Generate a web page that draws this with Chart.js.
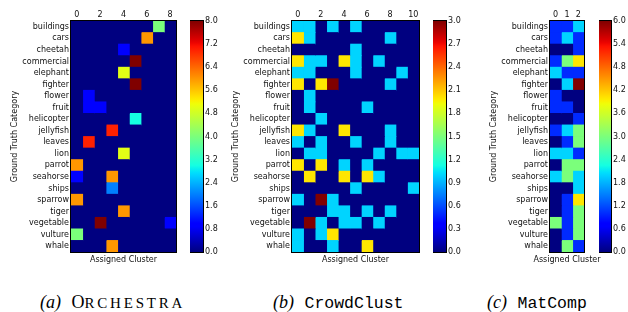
<!DOCTYPE html>
<html>
<head>
<meta charset="utf-8">
<script src="https://cdn.jsdelivr.net/npm/chart.js@4.4.1/dist/chart.umd.min.js"></script>
<style>
  body { margin: 0; background: #fff; }
  #wrap { position: relative; width: 628px; height: 312px; overflow: hidden; }
  canvas { position: absolute; top: 0; }
  .cap { position: absolute; top: 294px; font-size: 18px; line-height: 17px; white-space: nowrap; color: #000;
         font-family: "Liberation Serif", serif; word-spacing: 6px; }
  .cap i { font-style: italic; }
  .sc { font-size: 15px; letter-spacing: 2.8px; }
  .tt { font-family: "Liberation Mono", monospace; font-size: 16.5px; }
</style>
</head>
<body>
<div id="wrap">
  <canvas id="hmA" width="178" height="270" style="left:0px"></canvas>
  <canvas id="cbA" width="30" height="270" style="left:190px"></canvas>
  <canvas id="hmB" width="200" height="270" style="left:220px"></canvas>
  <canvas id="cbB" width="30" height="270" style="left:433px"></canvas>
  <canvas id="hmC" width="148" height="270" style="left:480px"></canvas>
  <canvas id="cbC" width="29" height="270" style="left:599px"></canvas>
  <div class="cap" style="left:40px"><i>(a)</i> O<span class="sc">RCHESTRA</span></div>
  <div class="cap" style="left:273px"><i>(b)</i> <span class="tt">CrowdClust</span></div>
  <div class="cap" style="left:487px"><i>(c)</i> <span class="tt">MatComp</span></div>
</div>
<script>
// ---- data ----
const categories = ['buildings', 'cars', 'cheetah', 'commercial', 'elephant', 'fighter', 'flower', 'fruit',
  'helicopter', 'jellyfish', 'leaves', 'lion', 'parrot', 'seahorse', 'ships', 'sparrow', 'tiger',
  'vegetable', 'vulture', 'whale'];

// rows = categories, columns = assigned cluster
const orchestra = [
  [0,0,0,0,0,0,0,4,0],
  [0,0,0,0,0,0,6,0,0],
  [0,0,0,0,1,0,0,0,0],
  [0,0,0,0,0,8,0,0,0],
  [0,0,0,0,5,0,0,0,0],
  [0,0,0,0,0,8,0,0,0],
  [0,1,0,0,0,0,0,0,0],
  [0,1,1,0,0,0,0,0,0],
  [0,0,0,0,0,3,0,0,0],
  [0,0,0,7,0,0,0,0,0],
  [0,7,0,0,0,0,0,0,0],
  [0,0,0,0,5,0,0,0,0],
  [6,0,0,0,0,0,0,0,0],
  [1,0,0,6,0,0,0,0,0],
  [0,0,0,2,0,0,0,0,0],
  [6,0,0,0,0,0,0,0,0],
  [0,0,0,0,6,0,0,0,0],
  [0,0,8,0,0,0,0,0,1],
  [4,0,0,0,0,0,0,0,0],
  [0,0,0,6,0,0,0,0,0]
];

const crowdClust = [
  [1,1,0,1,0,1,0,0,0,0,0],
  [2,1,0,0,0,0,0,0,1,0,0],
  [0,0,0,0,0,1,0,0,0,0,0],
  [2,1,1,0,2,1,0,1,0,0,0],
  [1,1,0,0,0,1,0,0,0,1,0],
  [2,0,2,3,0,0,0,0,1,0,0],
  [0,1,0,0,0,0,0,0,0,0,0],
  [0,1,0,0,0,0,1,0,0,0,0],
  [0,0,1,0,0,0,0,0,0,0,0],
  [2,1,0,0,2,0,0,0,1,0,0],
  [1,0,1,0,0,1,0,0,1,0,0],
  [0,1,1,0,0,0,0,1,0,1,1],
  [2,0,2,0,1,0,1,0,0,0,0],
  [0,2,0,0,2,0,2,1,0,0,0],
  [0,0,0,0,0,1,0,0,0,0,1],
  [1,0,3,1,0,0,0,0,0,0,0],
  [0,0,0,1,1,0,1,0,1,0,0],
  [0,3,1,0,1,1,0,1,0,0,0],
  [1,0,1,2,0,0,0,0,0,0,0],
  [1,0,0,1,0,0,2,0,0,0,0]
];

const matComp = [
  [1,1,2],
  [1,2,1],
  [0,0,1],
  [1,3,4],
  [2,1,1],
  [0,2,6],
  [1,0,0],
  [1,1,0],
  [0,0,1],
  [1,2,3],
  [0,1,3],
  [2,2,1],
  [0,3,3],
  [2,3,2],
  [0,0,2],
  [0,1,4],
  [0,1,3],
  [3,1,3],
  [0,1,3],
  [0,3,1]
];

const orchestraXTicks = [0, 2, 4, 6, 8];
const crowdClustXTicks = [0, 2, 4, 6, 8, 10];
const matCompXTicks = [0, 1, 2];

const orchestraBarTicks = [0, 0.8, 1.6, 2.4, 3.2, 4.0, 4.8, 5.6, 6.4, 7.2, 8.0];
const crowdClustBarTicks = [0, 0.3, 0.6, 0.9, 1.2, 1.5, 1.8, 2.1, 2.4, 2.7, 3.0];
const matCompBarTicks = [0, 0.6, 1.2, 1.8, 2.4, 3.0, 3.6, 4.2, 4.8, 5.4, 6.0];

// ---- jet colormap (matplotlib segment data) ----
const JET = {
  r: [[0, 0], [0.35, 0], [0.66, 1], [0.89, 1], [1, 0.5]],
  g: [[0, 0], [0.125, 0], [0.375, 1], [0.64, 1], [0.91, 0], [1, 0]],
  b: [[0, 0.5], [0.11, 1], [0.34, 1], [0.65, 0], [1, 0]]
};
function seg(pts, t) {
  for (let i = 1; i < pts.length; i++) {
    if (t <= pts[i][0]) {
      const [x0, y0] = pts[i - 1], [x1, y1] = pts[i];
      return y0 + (y1 - y0) * (t - x0) / (x1 - x0);
    }
  }
  return pts[pts.length - 1][1];
}
function jet(t) {
  t = Math.max(0, Math.min(1, t));
  const c = k => Math.round(seg(JET[k], t) * 255);
  return `rgb(${c('r')},${c('g')},${c('b')})`;
}

const FONT = { family: 'DejaVu Sans', size: 8 };
const TEXT = '#111';
const NOGRID = { display: false, drawTicks: false };

const frame = {
  id: 'frame',
  beforeDatasetsDraw(chart, args, opts) {
    if (!opts.fill) return;
    const a = chart.chartArea, ctx = chart.ctx;
    ctx.save();
    ctx.fillStyle = opts.fill;
    ctx.fillRect(a.left, a.top, a.right - a.left, a.bottom - a.top);
    ctx.restore();
  },
  afterDatasetsDraw(chart) {
    const a = chart.chartArea, ctx = chart.ctx;
    ctx.save();
    ctx.strokeStyle = '#000';
    ctx.lineWidth = 1;
    ctx.strokeRect(Math.round(a.left) - 0.5, Math.round(a.top) - 0.5,
      Math.round(a.right - a.left) + 1, Math.round(a.bottom - a.top) + 1);
    ctx.restore();
  }
};

// let the bottom axis title run wider than the narrow plot area
const wideTitle = {
  id: 'wideTitle',
  afterLayout(chart) {
    const s = chart.scales.x2;
    s.left -= 40;
    s.right += 40;
  }
};

function heatmap(id, matrix, xTicks, vmax, yWidth, titlePad, padRight) {
  const nCols = matrix[0].length;
  const datasets = matrix[0].map((_, c) => ({
    data: categories.map(() => [c - 0.5, c + 0.5]),
    backgroundColor: ctx => jet(matrix[ctx.dataIndex][c] / vmax),
    borderWidth: 0,
    inflateAmount: 0.4,
    grouped: false,
    barPercentage: 1,
    categoryPercentage: 1,
    xAxisID: 'x',
    yAxisID: 'y'
  }));
  new Chart(document.getElementById(id), {
    type: 'bar',
    data: { labels: categories, datasets },
    options: {
      indexAxis: 'y',
      responsive: false,
      animation: false,
      layout: { padding: { left: 0, right: padRight, top: 0, bottom: 0 } },
      plugins: { legend: { display: false }, tooltip: { enabled: false }, frame: { fill: jet(0) } },
      scales: {
        x: {
          type: 'linear', position: 'top', min: -0.5, max: nCols - 0.5, offset: false,
          afterBuildTicks: s => { s.ticks = xTicks.map(v => ({ value: v })); },
          afterFit: s => { s.height = 21; },
          grid: NOGRID, border: { display: false },
          ticks: { font: FONT, color: TEXT, padding: 1, autoSkip: false, maxRotation: 0 }
        },
        x2: {
          type: 'linear', position: 'bottom',
          afterFit: s => { s.height = 18; },
          grid: NOGRID, border: { display: false },
          ticks: { display: false },
          title: { display: true, text: 'Assigned Cluster', font: FONT, color: TEXT, padding: { top: 0, bottom: 5 } }
        },
        y: {
          type: 'category', position: 'left',
          afterFit: s => { s.width = yWidth; },
          grid: NOGRID, border: { display: false },
          ticks: { font: FONT, color: TEXT, padding: 2, autoSkip: false },
          title: { display: true, text: 'Ground Truth Category', font: FONT, color: TEXT, padding: { top: titlePad, bottom: 0 } }
        }
      }
    },
    plugins: [frame, wideTitle]
  });
}

function colorbar(id, vmax, tickVals, yWidth) {
  new Chart(document.getElementById(id), {
    type: 'bar',
    data: {
      labels: [''],
      datasets: [{
        data: [[0, vmax]],
        borderWidth: 0,
        barPercentage: 1,
        categoryPercentage: 1,
        backgroundColor: ctx => {
          const chart = ctx.chart;
          if (!chart.chartArea) return jet(0.5);
          const y = chart.scales.y;
          const g = chart.ctx.createLinearGradient(0, y.getPixelForValue(0), 0, y.getPixelForValue(vmax));
          for (let i = 0; i <= 64; i++) g.addColorStop(i / 64, jet(i / 64));
          return g;
        }
      }]
    },
    options: {
      responsive: false,
      animation: false,
      layout: { padding: { top: 21, bottom: 18, left: 0, right: 0 } },
      plugins: { legend: { display: false }, tooltip: { enabled: false } },
      scales: {
        x: { display: false },
        y: {
          position: 'right', min: 0, max: vmax,
          afterBuildTicks: s => { s.ticks = tickVals.map(v => ({ value: v })); },
          afterFit: s => { s.width = yWidth; },
          grid: NOGRID, border: { display: false },
          ticks: { font: FONT, color: TEXT, padding: 2, autoSkip: false, callback: v => Number(v).toFixed(1) }
        }
      }
    },
    plugins: [frame]
  });
}

heatmap('hmA', orchestra, orchestraXTicks, 8, 71, 10.5, 2);
heatmap('hmB', crowdClust, crowdClustXTicks, 3, 72, 11.2, 1);
heatmap('hmC', matComp, matCompXTicks, 6, 70, 9.2, 44);

colorbar('cbA', 8, orchestraBarTicks, 17);
colorbar('cbB', 3, crowdClustBarTicks, 17);
colorbar('cbC', 6, matCompBarTicks, 17);
</script>
</body>
</html>
